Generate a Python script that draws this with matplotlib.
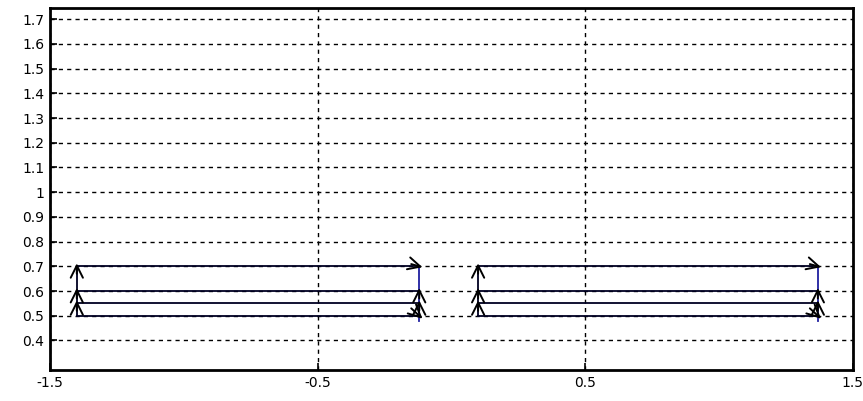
import matplotlib
matplotlib.use("Agg")
import matplotlib.pyplot as plt

# horizontal trajectories (y levels) and their x extents
niveles_y = [0.5, 0.55, 0.6, 0.7]
tramo_izq = [-1.4, -0.12]
tramo_der = [0.1, 1.37]

# arrowheads: (x, y, dx, dy) direction of the head
flechas_x = [-1.4, -1.4, -1.4, -0.12, -0.12, -0.12, -0.12,
             0.1, 0.1, 0.1, 1.37, 1.37, 1.37, 1.37]
flechas_y = [0.55, 0.6, 0.7, 0.7, 0.6, 0.55, 0.5,
             0.55, 0.6, 0.7, 0.7, 0.6, 0.55, 0.5]
flechas_dx = [0, 0, 0, 1, 0, 0, 1, 0, 0, 0, 1, 0, 0, 1]
flechas_dy = [1, 1, 1, -0.3, 1, 1, -1, 1, 1, 1, -0.3, 1, 1, -1]

xticks = [-1.5, -0.5, 0.5, 1.5]
xtick_labels = ["-1.5", "-0.5", "0.5", "1.5"]
yticks = [0.4, 0.5, 0.6, 0.7, 0.8, 0.9, 1.0, 1.1, 1.2, 1.3, 1.4, 1.5, 1.6, 1.7]
ytick_labels = ["0.4", "0.5", "0.6", "0.7", "0.8", "0.9", "1", "1.1", "1.2",
                "1.3", "1.4", "1.5", "1.6", "1.7"]

fig = plt.figure(figsize=(8.63, 4.01), dpi=100)
ax = fig.add_axes([0.058, 0.077, 0.93, 0.903])

color_linea = "#000022"
for tramo in (tramo_izq, tramo_der):
    for y in niveles_y:
        ax.plot(tramo, [y, y], color=color_linea, lw=1.3)
    # vertical connectors at both ends
    ax.plot([tramo[0], tramo[0]], [min(niveles_y), max(niveles_y)], color=color_linea, lw=1.3)
    ax.plot([tramo[1], tramo[1]], [min(niveles_y) - 0.02, max(niveles_y)], color="#2020a0", lw=1.3)

# arrowheads drawn as short open chevrons
for x, y, dx, dy in zip(flechas_x, flechas_y, flechas_dx, flechas_dy):
    ax.annotate("", xy=(x + dx * 0.012, y + dy * 0.012),
                xytext=(x - dx * 0.03, y - dy * 0.03),
                arrowprops=dict(arrowstyle="->", color="black", lw=1.4,
                                mutation_scale=22, shrinkA=0, shrinkB=0))

ax.set_xlim(-1.5, 1.5)
ax.set_ylim(0.28, 1.745)
ax.set_xticks(xticks)
ax.set_xticklabels(xtick_labels, fontsize=10)
ax.set_yticks(yticks)
ax.set_yticklabels(ytick_labels, fontsize=10)
ax.tick_params(direction="in", length=5, width=1.2, pad=4)
ax.grid(True, color="black", linestyle=(0, (3, 3)), linewidth=1)
for sp in ax.spines.values():
    sp.set_linewidth(2)

fig.savefig("out.png", dpi=100)
